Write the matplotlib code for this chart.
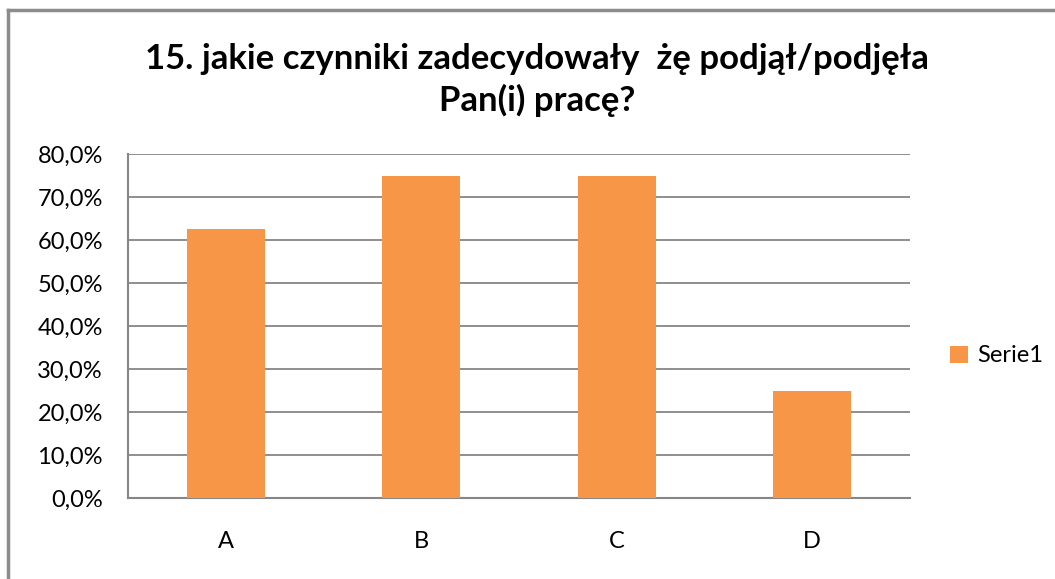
import matplotlib
matplotlib.use("Agg")
import matplotlib.pyplot as plt
from matplotlib.lines import Line2D
from matplotlib.ticker import FuncFormatter

plt.rcParams['font.family'] = ['Lato', 'DejaVu Sans']

# data
categories = ['A', 'B', 'C', 'D']
values = [62.5, 75.0, 75.0, 25.0]
series_name = 'Serie1'
title = '15. jakie czynniki zadecydowały  żę podjął/podjęła\nPan(i) pracę?'

bar_color = '#F79646'
grid_color = '#868686'

fig = plt.figure(figsize=(10.55, 5.79), dpi=100)
W, H = 1055, 579

# outer chart frame (left and top edges visible)
fig.add_artist(Line2D([8 / W, 8 / W], [0, 1 - 10 / H], transform=fig.transFigure,
                      color='#8c8c8c', lw=2.5))
fig.add_artist(Line2D([8 / W, 1], [1 - 10 / H, 1 - 10 / H], transform=fig.transFigure,
                      color='#8c8c8c', lw=2.5))

ax = fig.add_axes([128 / W, 1 - 498 / H, (910 - 128) / W, (498 - 154) / H])
x = range(len(categories))
ax.bar(x, values, width=0.4, color=bar_color, label=series_name, zorder=3)

ax.set_xlim(-0.5, len(categories) - 0.5)
ax.set_ylim(0, 80)
ax.set_yticks(range(0, 81, 10))
ax.yaxis.set_major_formatter(FuncFormatter(lambda v, p: f'{v:.1f}%'.replace('.', ',')))
ax.set_xticks(list(x))
ax.set_xticklabels(categories)

ax.grid(axis='y', color=grid_color, lw=1.3, zorder=0)
for s in ['top', 'right']:
    ax.spines[s].set_visible(False)
for s in ['left', 'bottom']:
    ax.spines[s].set_color(grid_color)
    ax.spines[s].set_linewidth(1.5)
ax.tick_params(axis='both', length=0, labelsize=17, colors='black')
ax.tick_params(axis='y', pad=18)
ax.tick_params(axis='x', pad=24)

fig.text(537 / W, 1 - 80 / H, title, ha='center', va='center',
         fontsize=25, fontweight='bold', linespacing=1.35)

ax.legend(loc='center left', bbox_to_anchor=(1.0, 0.413), frameon=False, fontsize=17,
          handlelength=0.75, handleheight=0.75, handletextpad=0.4,
          borderaxespad=1.3)

fig.savefig('out.png', dpi=100)
